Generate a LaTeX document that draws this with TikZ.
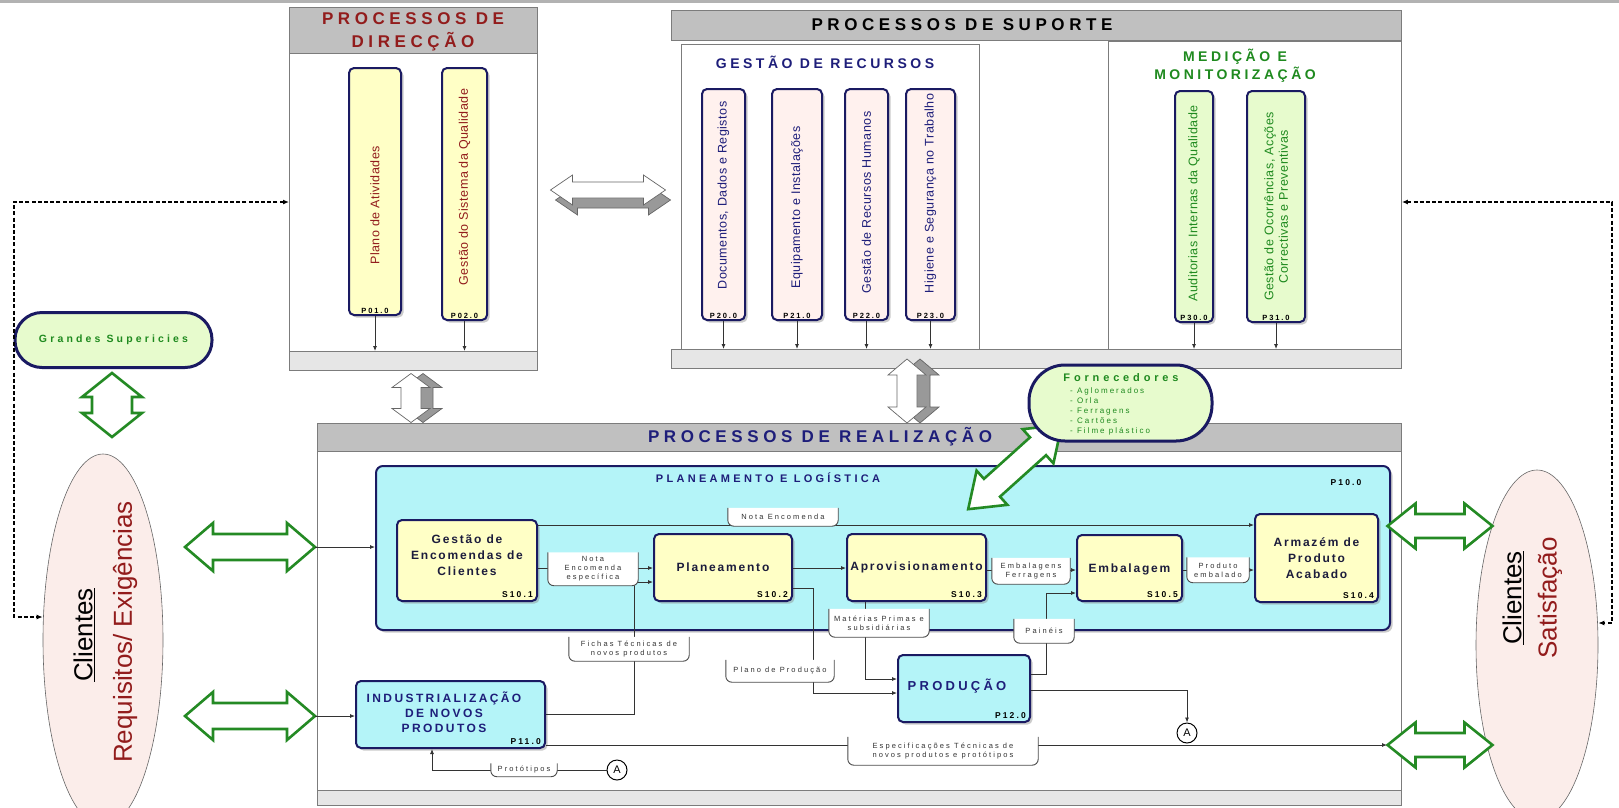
\documentclass[tikz,border=0pt]{standalone}
\usepackage{fontspec}
\setmainfont{Liberation Sans}
\usetikzlibrary{arrows.meta,shadows,shapes.geometric}
\definecolor{dred}{HTML}{921C1C}
\definecolor{navy}{HTML}{1E1E7A}
\definecolor{bnavy}{HTML}{1A1A62}
\definecolor{dgreen}{HTML}{1F8A1F}
\definecolor{agreen}{HTML}{248A24}
\definecolor{hdrgray}{HTML}{C0C0C0}
\definecolor{bandgray}{HTML}{E6E6E6}
\definecolor{framegray}{HTML}{7C7C7C}
\definecolor{pyellow}{HTML}{FFFFC6}
\definecolor{ppink}{HTML}{FFF1EE}
\definecolor{pgreen}{HTML}{E7FBCD}
\definecolor{pcyan}{HTML}{B4F4F8}
\definecolor{cpink}{HTML}{FBEDEA}
\definecolor{txtdark}{HTML}{1C1C3C}
\newcommand\LS[1]{\addfontfeature{LetterSpace=#1}}
% double block arrow: x, y, angle, length, head width, shaft width, head length, style
\newcommand\dblarr[8]{%
  \begin{scope}[shift={(#1,#2)},rotate=#3]
  \draw[#8] ({-(#4)/2},0) -- ({-(#4)/2+(#7)},{(#5)/2}) -- ({-(#4)/2+(#7)},{(#6)/2})
    -- ({(#4)/2-(#7)},{(#6)/2}) -- ({(#4)/2-(#7)},{(#5)/2}) -- ({(#4)/2},0)
    -- ({(#4)/2-(#7)},{-(#5)/2}) -- ({(#4)/2-(#7)},{-(#6)/2})
    -- ({-(#4)/2+(#7)},{-(#6)/2}) -- ({-(#4)/2+(#7)},{-(#5)/2}) -- cycle;
  \end{scope}}
% vertical process box: name, x, top, bottom, width, fill style, text opts, text, tag
\newcommand\vproc[9]{%
  \node[procbox,#6,minimum width=#5,minimum height={(#4)-(#3)}] (#1) at ({#2},{((#3)+(#4))/2}) {};
  \node[#7,vtext] at (#1) {#8};
  \node[ptag,anchor=south] at (#1.south) {#9};}
% flow label: name, position, width, height, text
\newcommand\flbl[5]{%
  \node[inner sep=0pt,minimum width=#3,minimum height=#4] (#1) at (#2) {};
  \path[fill=white] (#1.north west) [rounded corners=6pt] -- (#1.south west) -- (#1.south east) [sharp corners] -- (#1.north east) -- cycle;
  \draw[flline] (#1.north west) [rounded corners=6pt] -- (#1.south west) -- (#1.south east) -- (#1.north east);
  \node[fltext] at (#1) {#5};}
\begin{document}
\begin{tikzpicture}[x=1pt,y=-1pt,
  frame/.style={draw=framegray,line width=0.9pt,fill=white,inner sep=0pt},
  hdr/.style={draw=framegray,fill=hdrgray,line width=0.9pt},
  band/.style={draw=framegray,fill=bandgray,line width=0.9pt},
  procbox/.style={draw=bnavy,line width=2pt,rounded corners=5pt,inner sep=0pt,
    drop shadow={shadow xshift=2.5pt,shadow yshift=-2.5pt,fill=black!45,opacity=0.45}},
  yel/.style={fill=pyellow}, pnk/.style={fill=ppink}, grn/.style={fill=pgreen}, cyn/.style={fill=pcyan},
  vtext/.style={rotate=90,align=center,font=\fontsize{12.5}{14.5}\selectfont\LS{4}},
  ptag/.style={inner sep=2.5pt,font=\fontsize{7.5}{8}\selectfont\bfseries\LS{25}},
  stag/.style={inner sep=0pt,font=\fontsize{8.5}{9}\selectfont\bfseries\LS{25}},
  btext/.style={align=center,text=txtdark,font=\fontsize{12}{16}\selectfont\bfseries\LS{15}},
  ntext/.style={align=center,text=navy,font=\fontsize{12}{15}\selectfont\bfseries\LS{20}},
  ttl/.style={align=center,font=\fontsize{17}{23}\selectfont\bfseries\LS{27}},
  sttl/.style={align=center,font=\fontsize{14}{18}\selectfont\bfseries\LS{25}},
  conn/.style={draw=black!80,line width=0.8pt},
  arr/.style={-{Latex[length=5pt,width=4pt]}},
  fltext/.style={align=center,text=black!80,font=\fontsize{7.5}{9}\selectfont\LS{28}},
  flline/.style={draw=black!70,line width=0.9pt},
  garr/.style={draw=agreen,line width=2.6pt,fill=white,line join=miter},
  gw/.style={draw=black!60,line width=0.7pt,fill=white},
  gg/.style={draw=black!60,line width=0.7pt,fill=black!40},
  dashl/.style={draw=black,line width=1.2pt,dash pattern=on 4pt off 2.2pt},
  dtip/.style={{Latex[length=6pt,width=5pt]}-{Latex[length=6pt,width=5pt]}},
  gbox/.style={fill=pgreen,draw=bnavy,line width=3pt,inner sep=0pt},
  cltext/.style={rotate=90,font=\fontsize{26}{26}\selectfont},
  circ/.style={circle,draw=black,line width=1pt,fill=white,minimum size=20pt,inner sep=0pt,font=\fontsize{11}{11}\selectfont}
]
\useasboundingbox (0,0) rectangle (1619,807);
\fill[black!30] (0,0) rectangle (1619,3);

% ---------------- PROCESSOS DE DIRECCAO
\node[frame,anchor=north west,minimum width=248,minimum height=363] (dirbox) at (289,7) {};
\draw[hdr] (289,7) rectangle (537,53);
\draw[band] (289,351) rectangle (537,370);
\node[ttl,text=dred] at (413,32) {PROCESSOS DE\\DIRECÇÃO};
\vproc{p01}{375}{68}{315}{52}{yel}{text=dred,yshift=-14pt}{Plano de Atividades}{P01.0}
\vproc{p02}{464.5}{68}{320}{45}{yel}{text=dred,yshift=7pt}{Gestão do Sistema da Qualidade}{P02.0}

% ---------------- PROCESSOS DE SUPORTE
\draw[hdr] (671,10) rectangle (1401,40);
\node[ttl] at (962,25) {PROCESSOS DE SUPORTE};
\node[frame,anchor=north west,minimum width=298,minimum height=305] (recbox) at (681,44) {};
\node[frame,anchor=north west,minimum width=293,minimum height=308] (medbox) at (1108,41) {};
\draw[band] (671,349) rectangle (1401,368);
\node[sttl,text=navy] at (825,62) {GESTÃO DE RECURSOS};
\node[sttl,text=dgreen] at (1235,66) {MEDIÇÃO E\\MONITORIZAÇÃO};
\vproc{p20}{723.5}{89}{320}{43}{pnk}{text=navy,yshift=9pt}{Documentos, Dados e Registos}{P20.0}
\vproc{p21}{797}{89}{320}{50}{pnk}{text=navy,yshift=-3pt}{Equipamento e Instalações}{P21.0}
\vproc{p22}{866.5}{89}{320}{43}{pnk}{text=navy,yshift=2pt}{Gestão de Recursos Humanos}{P22.0}
\vproc{p23}{930.5}{89}{320}{49}{pnk}{text=navy,yshift=11pt}{Higiene e Segurança no Trabalho}{P23.0}
\vproc{p30}{1194}{91}{322}{38}{grn}{text=dgreen,yshift=3pt}{Auditorias Internas da Qualidade}{P30.0}
\vproc{p31}{1276}{91}{322}{58}{grn}{text=dgreen}{Gestão de Ocorrências, Acções\\Correctivas e Preventivas}{P31.0}
\foreach \n in {p01,p02} \draw[conn,arr] (\n.south) -- (\n.south |- 0,351);
\foreach \n in {p20,p21,p22,p23,p30,p31} \draw[conn,arr] (\n.south) -- (\n.south |- 0,349);

% ---------------- grey 3D arrows
\dblarr{613}{200}{0}{115}{30}{16}{22}{gg}
\dblarr{608}{190}{0}{115}{30}{16}{22}{gw}
\dblarr{423}{398}{90}{49}{38}{20}{14}{gg}
\dblarr{411}{398}{90}{49}{38}{20}{14}{gw}
\dblarr{920}{391}{90}{64}{38}{20}{16}{gg}
\dblarr{907}{391}{90}{64}{38}{20}{16}{gw}

% ---------------- PROCESSOS DE REALIZACAO
\node[frame,anchor=north west,minimum width=1084,minimum height=382] (realbox) at (317,423) {};
\draw[hdr] (317,423) rectangle (1401,451);
\draw[band] (317,790) rectangle (1401,805);
\node[ttl,text=navy] at (820,437) {PROCESSOS DE REALIZAÇÃO};

\node[procbox,cyn,rounded corners=7pt,anchor=north west,minimum width=1014,minimum height=164] (plbox) at (375,465) {};
\node[font=\fontsize{11}{11}\selectfont\bfseries\LS{30},text=navy] at (768,478) {PLANEAMENTO E LOGÍSTICA};
\node[stag] at (1346,483) {P10.0};

\node[procbox,yel,minimum width=140,minimum height=81] (s101) at (467,560.5) {};
\node[btext] at (467,555) {Gestão de\\Encomendas de\\Clientes};
\node[stag,anchor=south east] at ([xshift=-5pt,yshift=4pt]s101.south east) {S10.1};
\node[procbox,yel,minimum width=138,minimum height=67] (s102) at (723,567.5) {};
\node[btext] at (723,567.5) {Planeamento};
\node[stag,anchor=south east] at ([xshift=-5pt,yshift=4pt]s102.south east) {S10.2};
\node[procbox,yel,minimum width=139,minimum height=67] (s103) at (916.5,567.5) {};
\node[btext] at (916.5,567.5) {Aprovisionamento};
\node[stag,anchor=south east] at ([xshift=-5pt,yshift=4pt]s103.south east) {S10.3};
\node[procbox,yel,minimum width=105,minimum height=66] (s105) at (1129.5,568) {};
\node[btext] at (1129.5,569) {Embalagem};
\node[stag,anchor=south east] at ([xshift=-5pt,yshift=4pt]s105.south east) {S10.5};
\node[procbox,yel,minimum width=123,minimum height=88] (s104) at (1316.5,558) {};
\node[btext] at (1316.5,558) {Armazém de\\Produto\\Acabado};
\node[stag,anchor=south east] at ([xshift=-5pt,yshift=4pt]s104.south east) {S10.4};

\node[procbox,cyn,minimum width=189,minimum height=67] (ind) at (450.5,714.5) {};
\node[ntext] at (444,712) {INDUSTRIALIZAÇÃO\\DE NOVOS\\PRODUTOS};
\node[stag,anchor=south east] at ([xshift=-5pt,yshift=4pt]ind.south east) {P11.0};
\node[procbox,cyn,minimum width=132,minimum height=67] (prod) at (964,688.5) {};
\node[font=\fontsize{13}{13}\selectfont\bfseries\LS{25},text=navy] at (957,686) {PRODUÇÃO};
\node[stag,anchor=south east] at ([xshift=-5pt,yshift=4pt]prod.south east) {P12.0};

\node[circ] (A1) at (1187,733) {A};
\node[circ] (A2) at (617,770) {A};

% connectors
\draw[conn,arr] (s101.east |- 0,525) -- (s104.west |- 0,525);
\draw[conn,arr] (s101.east |- 0,568) -- (s102.west |- 0,568);
\draw[conn,arr] (s102.east |- 0,568) -- (s103.west |- 0,568);
\draw[conn,arr] (s103.east |- 0,570) -- (s105.west |- 0,570);
\draw[conn,arr] (s105.east |- 0,570) -- (s104.west |- 0,570);
\draw[conn,arr] (s102.east |- 0,588) -- (813,588) -- (813,693) -- (prod.west |- 0,693);
\draw[conn,arr] (s103.south -| 865,0) -- (865,679) -- (prod.west |- 0,679);
\draw[conn,arr] (prod.east |- 0,674) -- (1046,674) -- (1046,593) -- (s105.west |- 0,593);
\draw[conn,arr] (prod.east |- 0,690) -| (A1.north);
\draw[conn,arr] (ind.east |- 0,714) -| (634,582) -- (s102.west |- 0,582);
\coordinate (gR2tip) at (1387,745);
\draw[conn,arr] (ind.east |- gR2tip) -- (gR2tip);
\draw[conn,arr] (A2.west) -| (ind.south -| 432,0);

% flow labels
\flbl{lnota}{783,517}{110}{18}{Nota Encomenda}
\flbl{lnotaesp}{593,569}{90}{33}{Nota\\Encomenda\\específica}
\flbl{lemb}{1031,571}{78}{26}{Embalagens\\Ferragens}
\flbl{lprodemb}{1218,570}{62}{25}{Produto\\embalado}
\flbl{lmat}{879,623}{100}{28}{Matérias Primas e\\subsidiárias}
\flbl{lfichas}{629,649}{120}{24}{Fichas Técnicas de\\novos produtos}
\flbl{lplano}{780,671}{108}{22}{Plano de Produção}
\flbl{lpain}{1044,631}{60}{24}{Painéis}
\flbl{lespec}{943,751}{190}{28}{Especificações Técnicas de\\novos produtos e protótipos}
\flbl{lprot}{524,770}{66}{13}{Protótipos}

% ---------------- clients
\node[ellipse,draw=black!60,fill=cpink,line width=0.6pt,minimum width=120,minimum height=372,inner sep=0pt] (cliL) at (103,640) {};
\node[cltext] at (84,635) {\underline{Clientes}};
\node[cltext,text=dred] at (125,632) {Requisitos/ Exigências};
\node[ellipse,draw=black!60,fill=cpink,line width=0.6pt,minimum width=122,minimum height=350,inner sep=0pt] (cliR) at (1537,645) {};
\node[cltext] at (1513,598) {\underline{Clientes}};
\node[cltext,text=dred] at (1550,598) {Satisfação};

\node[gbox,rounded corners=27pt,minimum width=197,minimum height=55] (gsup) at (113.5,340) {};
\node[text=dgreen,font=\fontsize{10.5}{10.5}\selectfont\bfseries\LS{30}] at (gsup) {Grandes Supericies};

% green arrows
\dblarr{250}{547}{0}{130}{48}{26}{28}{garr}
\dblarr{250}{716}{0}{130}{48}{26}{28}{garr}
\dblarr{112}{405}{90}{64}{60}{40}{24}{garr}
\dblarr{1440}{526}{0}{105}{45}{24}{28}{garr}
\dblarr{1440}{745}{0}{105}{45}{24}{28}{garr}
\dblarr{1015}{467}{42}{126}{46}{24}{32}{garr}
\coordinate (gL1tip) at (315,547);
\coordinate (gL2tip) at (315,716);
\draw[conn,arr] (gL1tip) -- (plbox.west |- gL1tip);
\draw[conn,arr] (gL2tip) -- (ind.west |- gL2tip);

% fornecedores
\node[gbox,rounded corners=36pt,minimum width=183,minimum height=76] (forn) at (1120.5,403) {};
\node[text=dgreen,font=\fontsize{11}{11}\selectfont\bfseries\LS{35}] at (1121,378) {Fornecedores};
\node[text=dgreen,anchor=north west,align=left,inner sep=0pt,font=\fontsize{8}{10}\selectfont\LS{25}] at (1070,387) {- Aglomerados\\- Orla\\- Ferragens\\- Cartões\\- Filme plástico};

% dashed feedback lines
\coordinate (dl1) at (14,202);
\coordinate (dl2) at (14,617);
\draw[dashl,dtip] (dirbox.west |- dl1) -- (dl1) -- (dl2) -- (cliL.west |- dl2);
\coordinate (dr1) at (1612,202);
\coordinate (dr2) at (1612,623);
\draw[dashl,dtip] (medbox.east |- dr1) -- (dr1) -- (dr2) -- (cliR.east |- dr2);
\end{tikzpicture}
\end{document}
